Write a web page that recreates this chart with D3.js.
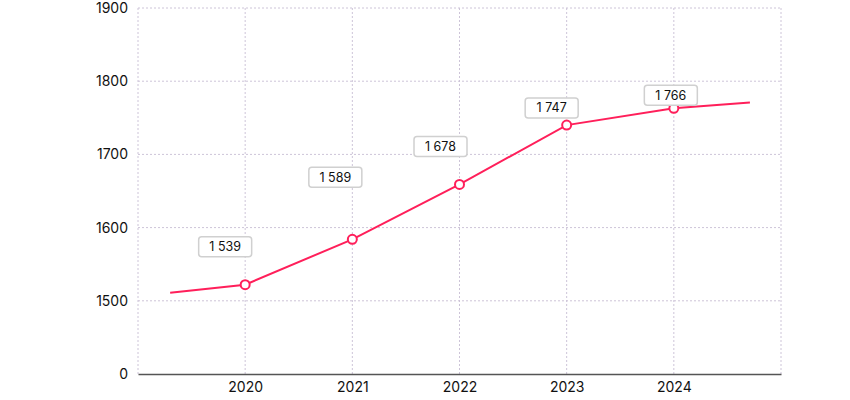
<!DOCTYPE html>
<html>
<head>
<meta charset="utf-8">
<script src="https://cdn.jsdelivr.net/npm/d3@7"></script>
<style>
  body { margin: 0; background: #fff; font-family: Inter, "Noto Sans", sans-serif; }
  .grid line { stroke: #cdc4d8; stroke-width: 1; stroke-dasharray: 2 2; }
  .axis text { font-family: Inter, sans-serif; font-size: 14px; fill: #111; }
  .tag text { font-family: Inter, sans-serif; font-size: 12.5px; fill: #111; }
</style>
</head>
<body>
<div id="chart"></div>
<script>
// data
const years = [2020, 2021, 2022, 2023, 2024]
const labelValues = [1539, 1589, 1678, 1747, 1766]
// line as drawn (incl. the lead-in and tail segments)
const lineX = [2019.3, 2020, 2021, 2022, 2023, 2024, 2024.71]
const lineValues = [1511, 1522, 1584, 1659, 1740, 1763, 1771]
const yTickValues = [1400, 1500, 1600, 1700, 1800, 1900]
const yTickLabels = ["0", "1500", "1600", "1700", "1800", "1900"]

// layout: label box offsets from their point
const tagOffsets = [[-20, -38], [-17, -62], [-19, -38], [-15, -17], [-3, -13]]

const W = 850, H = 400
const margin = { top: 8, right: 69, bottom: 26, left: 138 }
const width = W - margin.left - margin.right
const height = H - margin.top - margin.bottom
const color = "#ff1f5a"

const fmt = d3.formatLocale({ decimal: ".", thousands: " ", grouping: [3], currency: ["", ""] }).format(",d")

const svg = d3.select("#chart").append("svg")
    .attr("width", W)
    .attr("height", H)
    .append("g")
    .attr("transform", `translate(${margin.left}, ${margin.top})`)

const x = d3.scaleLinear().domain([2019, 2025]).range([0, width])
const y = d3.scaleLinear().domain([1400, 1900]).range([height, 0])

/* GRID */
const grid = svg.append("g").attr("class", "grid")
grid.selectAll(".gx")
    .data([2019, ...years, 2025])
    .enter().append("line")
    .attr("x1", d => x(d)).attr("x2", d => x(d))
    .attr("y1", 0).attr("y2", height)
grid.selectAll(".gy")
    .data(yTickValues.slice(1))
    .enter().append("line")
    .attr("x1", 0).attr("x2", width)
    .attr("y1", d => y(d)).attr("y2", d => y(d))

/* AXES */
const y_axis = svg.append("g")
    .attr("class", "axis")
    .call(d3.axisLeft(y).tickValues(yTickValues).tickSize(0).tickPadding(10)
        .tickFormat((d, i) => yTickLabels[i]))
y_axis.select(".domain").remove()

const x_axis = svg.append("g")
    .attr("class", "axis")
    .attr("transform", `translate(0, ${height})`)
    .call(d3.axisBottom(x).tickValues(years).tickSize(0).tickPadding(8).tickFormat(d3.format("d")))
x_axis.select(".domain").attr("stroke", "#555").attr("stroke-width", 1.5)

/* LINE */
svg.append("path")
    .datum(lineX.map((d, i) => [d, lineValues[i]]))
    .attr("fill", "none")
    .attr("stroke", color)
    .attr("stroke-width", 2)
    .attr("d", d3.line().x(d => x(d[0])).y(d => y(d[1])))

const pts = years.map(yr => [yr, lineValues[lineX.indexOf(yr)]])
svg.selectAll(".dot")
    .data(pts)
    .enter().append("circle")
    .attr("cx", d => x(d[0]))
    .attr("cy", d => y(d[1]))
    .attr("r", 4.5)
    .attr("fill", "#fff")
    .attr("stroke", color)
    .attr("stroke-width", 2)

/* LABELS */
const tags = svg.selectAll(".tag")
    .data(pts)
    .enter().append("g")
    .attr("class", "tag")
    .attr("transform", (d, i) => `translate(${x(d[0]) + tagOffsets[i][0]}, ${y(d[1]) + tagOffsets[i][1]})`)
tags.append("rect")
    .attr("x", -26.5).attr("y", -10)
    .attr("width", 53).attr("height", 20)
    .attr("rx", 3)
    .attr("fill", "#fff")
    .attr("stroke", "#d0d0d0")
    .attr("stroke-width", 1.5)
tags.append("text")
    .attr("text-anchor", "middle")
    .attr("dy", "0.35em")
    .text((d, i) => fmt(labelValues[i]))
</script>
</body>
</html>
